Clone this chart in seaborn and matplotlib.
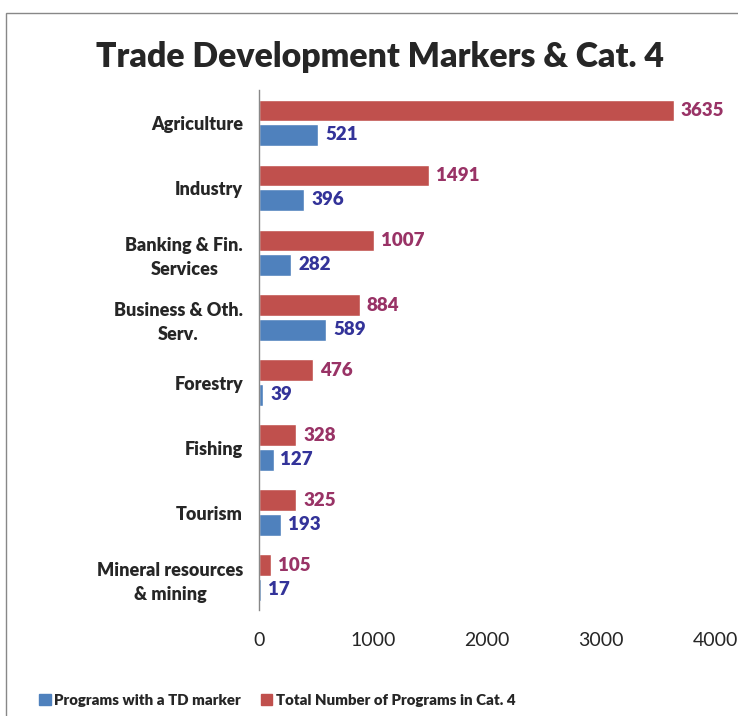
import matplotlib
matplotlib.use("Agg")
import matplotlib.pyplot as plt
import seaborn as sns
import pandas as pd
from matplotlib.patches import Patch, Rectangle

categories = ["Agriculture", "Industry", "Banking & Fin.\nServices", "Business & Oth.\nServ.",
              "Forestry", "Fishing", "Tourism", "Mineral resources\n& mining"]
td_marker = [521, 396, 282, 589, 39, 127, 193, 17]
total_cat4 = [3635, 1491, 1007, 884, 476, 328, 325, 105]
series = ["Total Number of Programs in Cat. 4", "Programs with a TD marker"]

df = pd.DataFrame({
    "Category": categories * 2,
    "Value": total_cat4 + td_marker,
    "Series": [series[0]] * len(categories) + [series[1]] * len(categories),
})

sns.set_style("white")
plt.rcParams['font.family'] = ['Lato', 'DejaVu Sans']

red = "#C0504D"
blue = "#4F81BD"
fig = plt.figure(figsize=(7.38, 7.16), dpi=100)
ax = fig.add_axes([0.351, 0.148, 0.618, 0.726])

sns.barplot(data=df, y="Category", x="Value", hue="Series", hue_order=series,
            palette=[red, blue], orient="h", width=0.75, gap=0.1,
            saturation=1, ax=ax, legend=False)

label_colors = ["#993366", "#333399"]
for cont, col in zip(ax.containers, label_colors):
    ax.bar_label(cont, padding=5, color=col, fontsize=13.5, fontweight="heavy")

ax.set_xlim(0, 4000)
ax.set_ylim(7.5, -0.5)
ax.set_xticks([0, 1000, 2000, 3000, 4000])
ax.set_xlabel("")
ax.set_ylabel("")
ax.tick_params(axis="x", length=0, pad=16, labelsize=14)
ax.tick_params(axis="y", length=0, pad=11.5, labelsize=13)
for lab in ax.get_yticklabels():
    lab.set_fontweight("heavy")
    lab.set_multialignment("center")
    lab.set_linespacing(1.5)
for s in ["top", "right", "bottom"]:
    ax.spines[s].set_visible(False)
ax.spines["left"].set_color("#888888")
ax.spines["left"].set_linewidth(1)

fig.text(0.515, 0.921, "Trade Development Markers & Cat. 4", ha="center", va="center",
         fontsize=24.3, fontweight="heavy")

handles = [Patch(color=blue, label=series[1]), Patch(color=red, label=series[0])]
fig.legend(handles=handles, loc="center left", bbox_to_anchor=(0.035, 0.022), ncol=2,
           frameon=False, prop={"weight": "heavy", "size": 10.8}, handlelength=0.75,
           handleheight=0.75, handletextpad=0.25, columnspacing=1.3)

fig.patches.append(Rectangle((6 / 738, -0.1), 1.2, 1 - 13 / 716 + 0.1, transform=fig.transFigure,
                             fill=False, edgecolor="#888888", linewidth=1))

fig.savefig("out.png", dpi=100)
